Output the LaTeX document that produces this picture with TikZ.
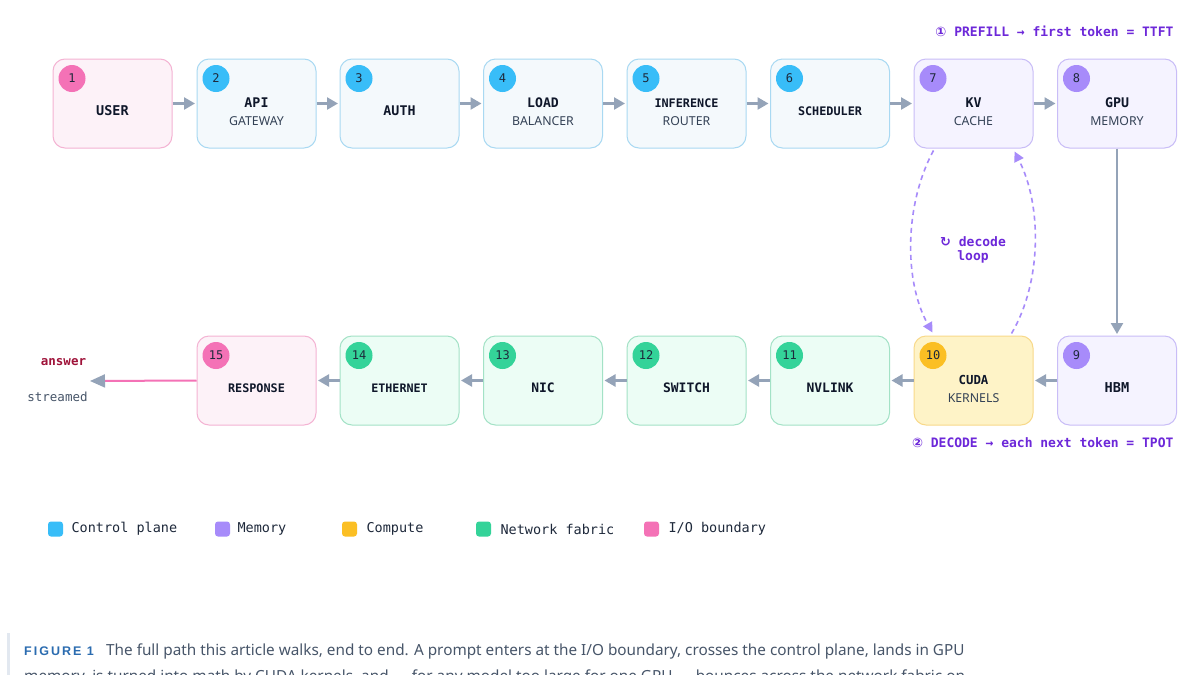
\documentclass[tikz,border=0pt]{standalone}
\usepackage{fontspec}
\setmainfont{Noto Sans}
\setmonofont{DejaVu Sans Mono}
\newfontfamily\symfont{DejaVu Sans}
\newfontfamily\subfont{Noto Sans}
\newfontfamily\figfont[LetterSpace=16]{Liberation Sans}
\usetikzlibrary{arrows.meta,calc}
\definecolor{ctlF}{HTML}{F4F9FC}\definecolor{ctlB}{HTML}{A9D9F2}\definecolor{ctlD}{HTML}{38BDF8}
\definecolor{memF}{HTML}{F5F3FF}\definecolor{memB}{HTML}{C9BDF7}\definecolor{memD}{HTML}{A78BFA}
\definecolor{cmpF}{HTML}{FEF3C7}\definecolor{cmpB}{HTML}{F8D98A}\definecolor{cmpD}{HTML}{FBBF24}
\definecolor{netF}{HTML}{ECFDF5}\definecolor{netB}{HTML}{A3E2C6}\definecolor{netD}{HTML}{34D399}
\definecolor{ioF}{HTML}{FDF2F8}\definecolor{ioB}{HTML}{F4B3D3}\definecolor{ioD}{HTML}{F472B6}
\definecolor{slate}{HTML}{94A3B8}
\definecolor{ink}{HTML}{0F172A}
\definecolor{subink}{HTML}{334155}
\definecolor{badgeink}{HTML}{1E293B}
\definecolor{violet}{HTML}{6D28D9}
\definecolor{loopc}{HTML}{A78BFA}
\definecolor{crimson}{HTML}{9F1239}
\definecolor{capgray}{HTML}{475569}
\definecolor{figblue}{HTML}{2B6CB0}
\definecolor{barc}{HTML}{E2E8F0}
\tikzset{
  box/.style={draw, rounded corners=12pt, minimum width=119pt, minimum height=89pt, line width=1pt, inner sep=0pt},
  badge/.style={circle, minimum size=27pt, inner sep=0pt, text=badgeink, font=\ttfamily\fontsize{12}{12}\selectfont},
  flow/.style={draw=slate, line width=2.4pt, -{Triangle[length=11pt,width=12pt]}, shorten >=1.5pt},
  decode/.style={draw=loopc, line width=1.6pt, dash pattern=on 5pt off 4pt, -{Triangle[length=10pt,width=10pt]}},
  legsq/.style={rounded corners=3pt, minimum size=15pt, inner sep=0pt},
  legtxt/.style={anchor=west, text=badgeink, font=\ttfamily\fontsize{13.5}{14}\selectfont},
  lbl/.style={text=violet, font=\ttfamily\bfseries\fontsize{13}{14}\selectfont},
}
\newcommand\mkstageA[7]{%
  \node[box, draw=#5B, fill=#5F] (#1) at (#2,#3) {};
  \node[badge, fill=#5D] at ($(#1.north west)+(19.5,20)$) {#4};
  \node[text=ink, font=\ttfamily\bfseries\fontsize{#7}{14}\selectfont] at ($(#1.center)+(0,7.5)$) {#6};
}
\newcommand\mkstageB[8]{%
  \node[box, draw=#5B, fill=#5F] (#1) at (#2,#3) {};
  \node[badge, fill=#5D] at ($(#1.north west)+(19.5,20)$) {#4};
  \node[text=ink, font=\ttfamily\bfseries\fontsize{#8}{14}\selectfont] at ($(#1.center)+(0,-0.5)$) {#6};
  \node[text=subink, font=\subfont\fontsize{12.3}{14}\selectfont] at ($(#1.center)+(0,17.5)$) {#7};
}
\begin{document}
\begin{tikzpicture}[x=1pt,y=-1pt]
\fill[white] (0,0) rectangle (1200,675);
\useasboundingbox (0,0) rectangle (1200,675);
% top row
\mkstageA{n1}{112.5}{103.5}{1}{io}{USER}{13.5}
\mkstageB{n2}{256.5}{103.5}{2}{ctl}{API}{GATEWAY}{13.3}
\mkstageA{n3}{399.5}{103.5}{3}{ctl}{AUTH}{13.3}
\mkstageB{n4}{543}{103.5}{4}{ctl}{LOAD}{BALANCER}{13.1}
\mkstageB{n5}{686.5}{103.5}{5}{ctl}{INFERENCE}{ROUTER}{11.8}
\mkstageA{n6}{830}{103.5}{6}{ctl}{SCHEDULER}{11.8}
\mkstageB{n7}{973.5}{103.5}{7}{mem}{KV}{CACHE}{13.3}
\mkstageB{n8}{1117}{103.5}{8}{mem}{GPU}{MEMORY}{13.3}
% bottom row
\mkstageA{n9}{1117}{380.5}{9}{mem}{HBM}{13.6}
\mkstageB{n10}{973.5}{380.5}{10}{cmp}{CUDA}{KERNELS}{12.4}
\mkstageA{n11}{830}{380.5}{11}{net}{NVLINK}{13}
\mkstageA{n12}{686.5}{380.5}{12}{net}{SWITCH}{13}
\mkstageA{n13}{543}{380.5}{13}{net}{NIC}{13}
\mkstageA{n14}{399.5}{380.5}{14}{net}{ETHERNET}{11.7}
\mkstageA{n15}{256.5}{380.5}{15}{io}{RESPONSE}{11.8}
% connectors
\foreach \a/\b in {n1/n2,n2/n3,n3/n4,n4/n5,n5/n6,n6/n7,n7/n8,n8/n9,n9/n10,n10/n11,n11/n12,n12/n13,n13/n14,n14/n15}
  \draw[flow] (\a) -- (\b);
% output
\coordinate (out) at (90,381);
\draw[draw=ioD, line width=2pt, -{Triangle[length=15pt,width=13pt,color=slate]}] (n15.west) -- (out);
\node[text=crimson, font=\ttfamily\bfseries\fontsize{12.5}{14}\selectfont] (ans) at (63.5,362) {answer};
\node[text=capgray, font=\ttfamily\fontsize{12.5}{14}\selectfont] (str) at (57.5,397) {streamed};
% decode loop
\coordinate (kvL) at ($(n7.south west)+(20,2)$);
\coordinate (kvR) at ($(n7.south west)+(101,3)$);
\coordinate (cuL) at ($(n10.north west)+(19,-3)$);
\coordinate (cuR) at ($(n10.north west)+(98,-2)$);
\draw[decode] (kvL) .. controls (904,205) and (904,282) .. (cuL);
\draw[decode] (cuR) .. controls (1042,282) and (1042,205) .. (kvR);
\node[lbl, align=center] (loop) at (973,250) {{\symfont ↻} decode\\loop};
% phase labels
\node[lbl, anchor=east] (pre) at (1177,31) {{\symfont ①} PREFILL → first token = TTFT};
\node[lbl, anchor=east] (dec) at (1177,443) {{\symfont ②} DECODE → each next token = TPOT};
% legend
\node[legsq, fill=ctlD] (q1) at (55.5,529) {};
\node[legtxt] (t1) at (68,529) {Control plane};
\node[legsq, fill=memD] (q2) at (222.5,529) {};
\node[legtxt] (t2) at (234,529) {Memory};
\node[legsq, fill=cmpD] (q3) at (349.5,529) {};
\node[legtxt] (t3) at (363,529) {Compute};
\node[legsq, fill=netD] (q4) at (483.5,529) {};
\node[legtxt] (t4) at (497,529) {Network fabric};
\node[legsq, fill=ioD] (q5) at (651.5,529) {};
\node[legtxt] (t5) at (665,529) {I/O boundary};
% caption
\draw[barc, line width=3pt] (8,633) -- (8,680);
\node[anchor=base west, inner sep=0pt, text=figblue, font=\figfont\bfseries\fontsize{12.5}{14}\selectfont] (fig) at (24,655) {FIGURE 1};
\node[anchor=base west, inner sep=0pt, text=capgray, font=\subfont\fontsize{15.3}{18}\selectfont] (cap1) at (106,655) {The full path this article walks, end to end. A prompt enters at the I/O boundary, crosses the control plane, lands in GPU};
\node[anchor=base west, inner sep=0pt, text=capgray, font=\subfont\fontsize{15.3}{18}\selectfont] (cap2) at (24,681) {memory, is turned into math by CUDA kernels, and — for any model too large for one GPU — bounces across the network fabric on};
\end{tikzpicture}
\end{document}
